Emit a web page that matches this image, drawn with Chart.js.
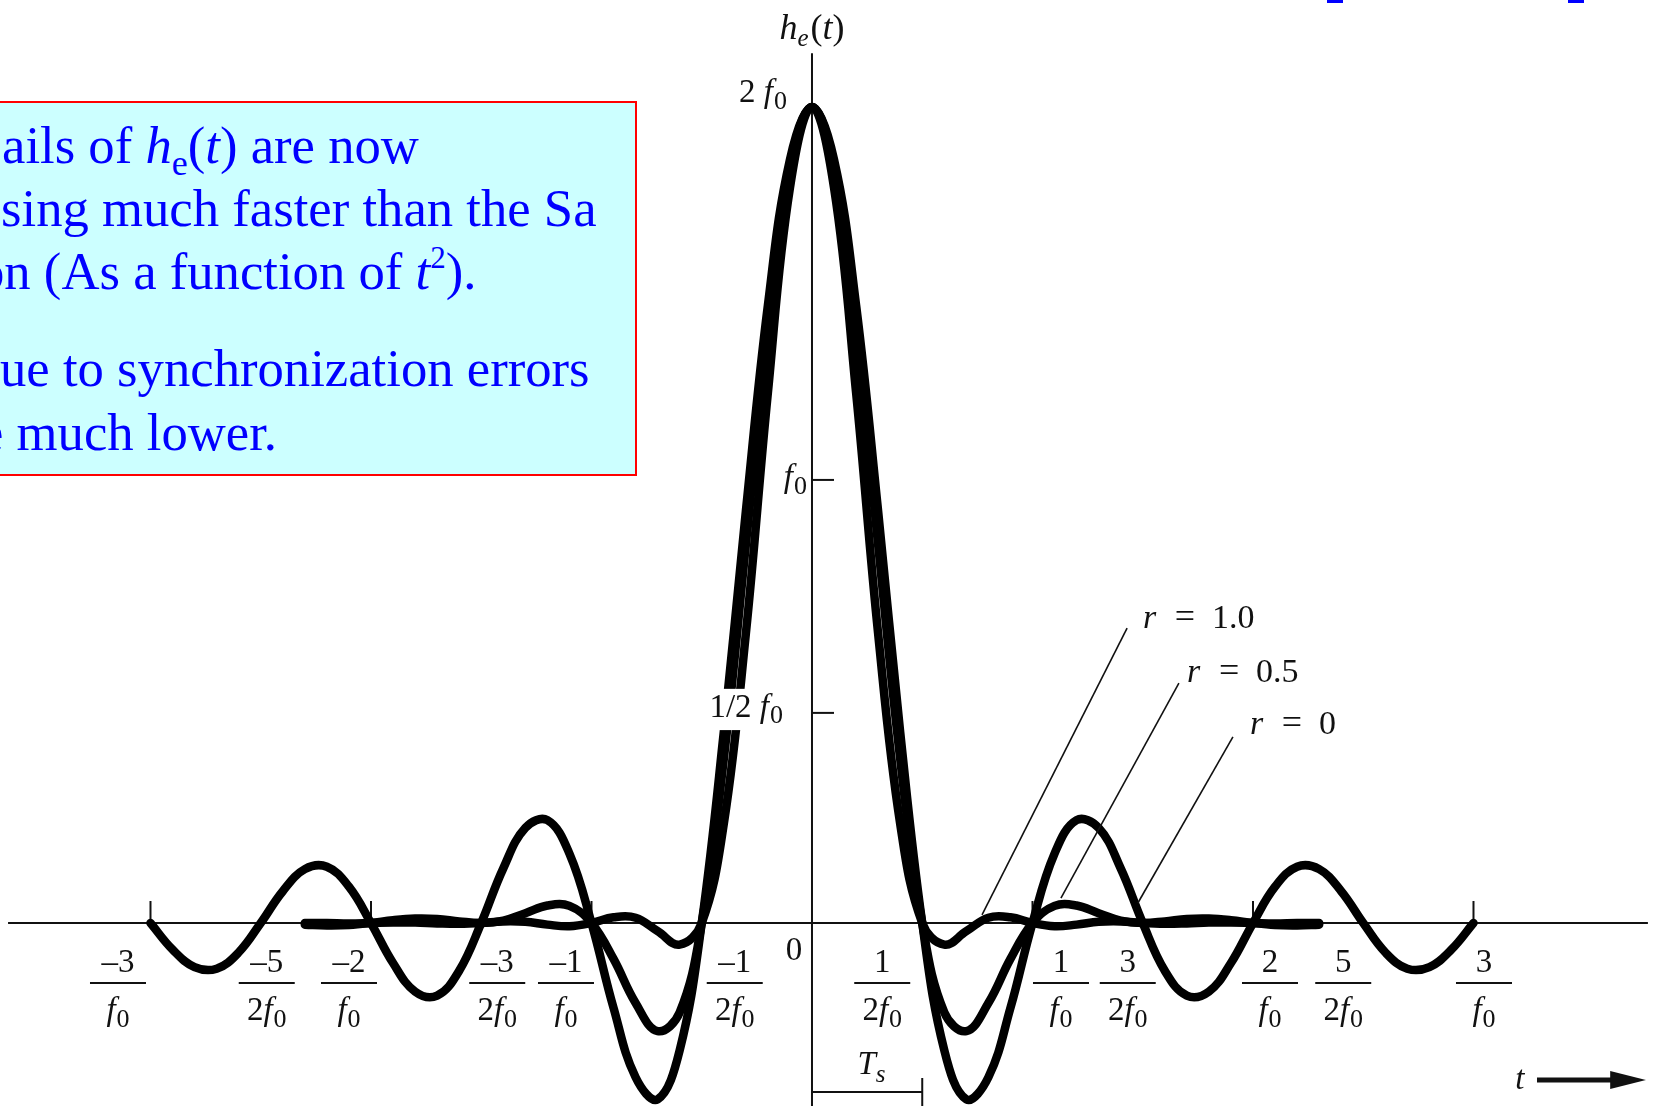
<!DOCTYPE html>
<html>
<head>
<meta charset="utf-8">
<script src="https://cdn.jsdelivr.net/npm/chart.js@4/dist/chart.umd.min.js"></script>
<style>
html,body{margin:0;padding:0;background:#fff;overflow:hidden;}
#wrap{position:relative;width:1656px;height:1106px;overflow:hidden;background:#fff;}
#c{position:absolute;left:0;top:0;}
#note{position:absolute;left:-4px;top:101px;width:641px;height:375px;box-sizing:border-box;background:#ccffff;border:2px solid #ff0000;}
.ln{position:absolute;font-family:"Liberation Serif","Times New Roman",serif;font-size:52.7px;line-height:64px;height:64px;color:#0000ff;white-space:nowrap;}
.ln i{font-style:italic;}
.sb{font-size:36px;position:relative;top:12px;}
.sp{font-size:31px;position:relative;top:-21px;}
.mark{position:absolute;top:0;height:3px;width:16px;background:#0000ff;}
</style>
</head>
<body>
<div id="wrap">
<canvas id="c" width="1656" height="1106"></canvas>
<div id="note"></div>
<div class="ln" style="left:2px;top:113px;">ails of <i>h</i><span class="sb">e</span>(<i>t</i>) are now</div>
<div class="ln" style="left:1px;top:176px;">sing much faster than the Sa</div>
<div class="ln" style="left:-22px;top:239px;">on (As a function of <i>t</i><span class="sp">2</span>).</div>
<div class="ln" style="left:0px;top:336px;">ue to synchronization errors</div>
<div class="ln" style="left:-20px;top:400px;">e much lower.</div>
<div class="mark" style="left:1327px;"></div>
<div class="mark" style="left:1568px;"></div>
</div>
<script>
// ---- data (t in units of 1/f0, h in units of f0) ----
const tWide = [-3.0,-2.9,-2.8,-2.7,-2.6,-2.5,-2.4,-2.3,-2.2,-2.1,-2.0,-1.9,-1.8,-1.7,-1.6,-1.5,-1.4,-1.3,-1.2,-1.1,-1.0,-0.9,-0.8,-0.7,-0.6,-0.5,-0.4,-0.3,-0.2,-0.1,0,0.1,0.2,0.3,0.4,0.5,0.6,0.7,0.8,0.9,1.0,1.1,1.2,1.3,1.4,1.5,1.6,1.7,1.8,1.9,2.0,2.1,2.2,2.3,2.4,2.5,2.6,2.7,2.8,2.9,3.0];
const hR0 = [0,-0.065,-0.108,-0.112,-0.072,0,0.078,0.132,0.138,0.089,0,-0.098,-0.168,-0.178,-0.117,0,0.134,0.233,0.252,0.170,0,-0.208,-0.378,-0.432,-0.312,0,0.468,1.009,1.514,1.871,2,1.871,1.514,1.009,0.468,0,-0.312,-0.432,-0.378,-0.208,0,0.170,0.252,0.233,0.134,0,-0.117,-0.178,-0.168,-0.098,0,0.089,0.138,0.132,0.078,0,-0.072,-0.112,-0.108,-0.065,0];
const tNarrow = [-2.3,-2.2,-2.1,-2.0,-1.9,-1.8,-1.7,-1.6,-1.5,-1.4,-1.3,-1.2,-1.1,-1.0,-0.9,-0.8,-0.7,-0.6,-0.5,-0.4,-0.3,-0.2,-0.1,0,0.1,0.2,0.3,0.4,0.5,0.6,0.7,0.8,0.9,1.0,1.1,1.2,1.3,1.4,1.5,1.6,1.7,1.8,1.9,2.0,2.1,2.2,2.3];
const hR05 = [-0.004,-0.006,-0.005,0,0.007,0.011,0.010,0.004,0,0.006,0.024,0.043,0.042,0,-0.088,-0.196,-0.265,-0.219,0,0.402,0.927,1.458,1.854,2,1.854,1.458,0.927,0.402,0,-0.219,-0.265,-0.196,-0.088,0,0.042,0.043,0.024,0.006,0,0.004,0.010,0.011,0.007,0,-0.005,-0.006,-0.004];
const hR10 = [0,0,-0.001,0,0.001,0.001,-0.001,-0.002,0,0.004,0.003,-0.004,-0.008,0,0.014,0.013,-0.020,-0.053,0,0.243,0.709,1.300,1.802,2,1.802,1.300,0.709,0.243,0,-0.053,-0.020,0.013,0.014,0,-0.008,-0.004,0.003,0.004,0,-0.002,-0.001,0.001,0.001,0,-0.001,0,0];

const seriesNames = ['r = 0','r = 0.5','r = 1.0'];
const rValues = ['0','0.5','1.0'];

// x tick labels (fractions of 1/f0)
const xTickValues = [-3,-2.5,-2,-1.5,-1,-0.5,0.5,1,1.5,2,2.5,3];
const xTickNum = ['\u20133','\u20135','\u20132','\u20133','\u20131','\u20131','1','1','3','2','5','3'];
const xTickDenTwo = [false,true,false,true,false,true,true,false,true,false,true,false];
const xMajorTicks = [-3,-2,-1,1,2,3];
// y tick labels (as drawn in the figure)
const yTickValues = [0.515, 1.086];
const yTickText = ['1/2 ', ''];
const yPeakValue = 2;

// ---- layout / styling (pixels) ----
const xLabelShift = [-32.5,6,-22,16,-25.5,33,-40,28.5,-15,17,-20,10.5];
const FONT = '"Liberation Serif","Times New Roman",serif';
const INK = '#111';

function rich(ctx, segs, x, y, align, size, bg){
  let w = 0;
  const ws = segs.map(s=>{
    ctx.font = (s.i?'italic ':'') + Math.round(size*(s.s||1)) + 'px ' + FONT;
    const m = ctx.measureText(s.t).width; w += m + (s.g||0); return m;
  });
  let x0 = align==='center' ? x - w/2 : align==='right' ? x - w : x;
  if (bg){
    const f = ctx.fillStyle; ctx.fillStyle = '#fff';
    ctx.fillRect(x0-3, y-size*0.85, w+6, size*1.25); ctx.fillStyle = f;
  }
  ctx.textAlign = 'left'; ctx.textBaseline = 'alphabetic';
  segs.forEach((s,i)=>{
    ctx.font = (s.i?'italic ':'') + Math.round(size*(s.s||1)) + 'px ' + FONT;
    x0 += (s.g||0);
    ctx.fillText(s.t, x0, y + (s.dy||0)*size);
    x0 += ws[i];
  });
}
const f0 = [{t:'f',i:true},{t:'0',s:0.8,dy:0.2,g:1}];

const figurePlugin = {
  id:'figure',
  beforeDatasetsDraw(c){
    const ctx = c.ctx, X = c.scales.x, Y = c.scales.y;
    const px = v=>X.getPixelForValue(v), py = v=>Y.getPixelForValue(v);
    ctx.save();
    ctx.strokeStyle = INK; ctx.lineWidth = 2; ctx.lineCap = 'butt';
    ctx.beginPath(); ctx.moveTo(px(-3.646), py(0)); ctx.lineTo(px(3.791), py(0)); ctx.stroke();
    ctx.beginPath(); ctx.moveTo(px(0), py(2.132)); ctx.lineTo(px(0), py(-0.46)); ctx.stroke();
    xMajorTicks.forEach(t=>{ ctx.beginPath(); ctx.moveTo(px(t), py(0)); ctx.lineTo(px(t), py(0)-22); ctx.stroke(); });
    yTickValues.forEach(v=>{ ctx.beginPath(); ctx.moveTo(px(0), py(v)); ctx.lineTo(px(0)+22, py(v)); ctx.stroke(); });
    ctx.restore();
  },
  afterDatasetsDraw(c){
    const ctx = c.ctx, X = c.scales.x, Y = c.scales.y;
    const px = v=>X.getPixelForValue(v), py = v=>Y.getPixelForValue(v);
    ctx.save();
    ctx.fillStyle = INK; ctx.strokeStyle = INK;
    const S = 33;
    const base = py(0);
    xTickValues.forEach((t,i)=>{
      const cx = px(t) + xLabelShift[i];
      rich(ctx, [{t:xTickNum[i]}], cx, base+49, 'center', S);
      ctx.lineWidth = 2;
      ctx.beginPath(); ctx.moveTo(cx-28, base+60); ctx.lineTo(cx+28, base+60); ctx.stroke();
      const den = xTickDenTwo[i] ? [{t:'2'}].concat(f0) : f0;
      rich(ctx, den, cx, base+97, 'center', S);
    });
    rich(ctx, [{t:'0'}], px(0)-18, base+37, 'center', S);
    rich(ctx, [{t:'2 '}].concat(f0), px(0)-25, py(yPeakValue)-5, 'right', S);
    rich(ctx, [{t:yTickText[1]}].concat(f0), px(0)-5, py(yTickValues[1])+7, 'right', S);
    rich(ctx, [{t:yTickText[0]}].concat(f0), px(0)-29, py(yTickValues[0])+4, 'right', S, true);
    rich(ctx, [{t:'h',i:true},{t:'e',i:true,s:0.7,dy:0.2},{t:'(',g:2},{t:'t',i:true},{t:')'}], px(0), py(0)-884, 'center', 36);
    const leaders = [
      {from:[1.429,0.723], to:[0.771,0.020], lab:[1.501], r:rValues[2]},
      {from:[1.664,0.588], to:[1.129,0.061], lab:[1.701], r:rValues[1]},
      {from:[1.909,0.456], to:[1.478,0.049], lab:[1.986], r:rValues[0]}
    ];
    const labBase = [628, 682, 734];
    ctx.lineWidth = 1.6;
    leaders.forEach((L,i)=>{
      ctx.beginPath(); ctx.moveTo(px(L.from[0]), py(L.from[1])); ctx.lineTo(px(L.to[0]), py(L.to[1])); ctx.stroke();
      const x0 = px(L.lab[0]);
      const yb = labBase[i];
      rich(ctx, [{t:'r',i:true}], x0, yb, 'left', 34);
      rich(ctx, [{t:'='}], x0+42, yb, 'center', 36);
      rich(ctx, [{t:L.r}], x0+69, yb, 'left', 34);
    });
    ctx.lineWidth = 2;
    const yb = py(0) + 169;
    ctx.beginPath(); ctx.moveTo(px(0), yb); ctx.lineTo(px(0.5), yb); ctx.stroke();
    ctx.beginPath(); ctx.moveTo(px(0.5), yb-14); ctx.lineTo(px(0.5), yb+20); ctx.stroke();
    rich(ctx, [{t:'T',i:true},{t:'s',i:true,s:0.75,dy:0.25}], px(0.27), py(0)+151, 'center', S);
    const ay = py(0) + 157;
    rich(ctx, [{t:'t',i:true}], px(3.21), ay+9, 'center', S);
    ctx.lineWidth = 5;
    ctx.beginPath(); ctx.moveTo(px(3.288), ay); ctx.lineTo(px(3.64), ay); ctx.stroke();
    ctx.beginPath(); ctx.moveTo(px(3.782), ay); ctx.lineTo(px(3.62), ay-9); ctx.lineTo(px(3.62), ay+9); ctx.closePath(); ctx.fill();
    ctx.restore();
  }
};

const mk = (ts, hs) => ts.map((t,i)=>({x:t, y:hs[i]}));

new Chart(document.getElementById('c'), {
  type:'line',
  data:{
    datasets:[
      {label:seriesNames[0], data:mk(tWide,hR0)},
      {label:seriesNames[1], data:mk(tNarrow,hR05)},
      {label:seriesNames[2], data:mk(tNarrow,hR10)}
    ]
  },
  options:{
    responsive:false,
    animation:false,
    devicePixelRatio:1,
    layout:{padding:0},
    plugins:{legend:{display:false}, tooltip:{enabled:false}},
    elements:{
      point:{radius:0, hoverRadius:0},
      line:{tension:0.4, borderWidth:8.5, borderColor:'#000', fill:false, borderCapStyle:'round', borderJoinStyle:'round'}
    },
    scales:{
      x:{type:'linear', min:-3.6825, max:3.8277, display:false},
      y:{type:'linear', min:-0.4485, max:2.2623, display:false}
    }
  },
  plugins:[figurePlugin]
});
</script>
</body>
</html>
